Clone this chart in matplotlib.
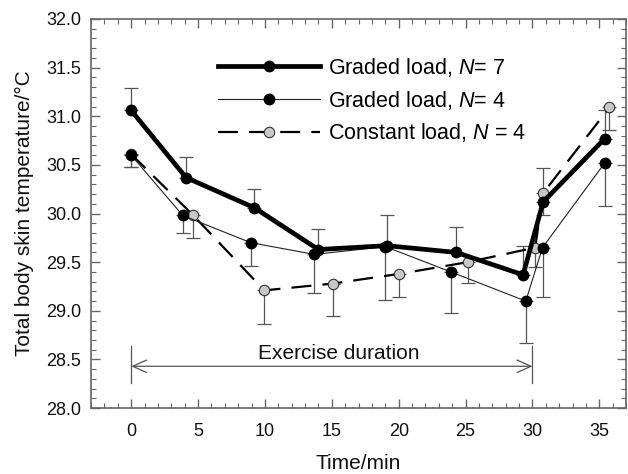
import numpy as np
import matplotlib
matplotlib.use("Agg")
import matplotlib.pyplot as plt
from matplotlib.ticker import MultipleLocator

plt.rcParams.update({
    "font.family": ["Liberation Sans", "DejaVu Sans"],
    "mathtext.fontset": "custom",
    "mathtext.rm": "Liberation Sans",
    "mathtext.it": "Liberation Sans:italic",
})

# graded load, N = 7 (thick line, bars up)
t_g7 = [0.0, 4.1, 9.2, 14.0, 19.1, 24.3, 29.3, 30.8, 35.4]
v_g7 = [31.06, 30.37, 30.06, 29.63, 29.67, 29.60, 29.37, 30.12, 30.77]
e_g7 = [0.23, 0.21, 0.19, 0.21, 0.31, 0.26, 0.30, 0.35, 0.29]

# graded load, N = 4 (thin line, bars down)
t_g4 = [0.0, 3.85, 8.95, 13.7, 19.0, 23.9, 29.5, 30.75, 35.4]
v_g4 = [30.60, 29.98, 29.70, 29.58, 29.66, 29.40, 29.10, 29.65, 30.52]
e_g4 = [0.12, 0.18, 0.24, 0.40, 0.55, 0.42, 0.43, 0.51, 0.44]

# constant load, N = 4 (dashed line, bars down)
t_c4 = [0.0, 4.65, 9.95, 15.05, 20.05, 25.15, 30.2, 30.8, 35.75]
v_c4 = [30.61, 29.98, 29.21, 29.28, 29.38, 29.50, 29.65, 30.21, 31.09]
e_c4 = [0.13, 0.23, 0.35, 0.33, 0.24, 0.21, 0.20, 0.23, 0.23]

bar_col = "#555555"
fig = plt.figure(figsize=(6.28, 4.74), dpi=100)
ax = fig.add_axes([0.145, 0.139, 0.852, 0.821])

ax.errorbar(t_g7, v_g7, yerr=[np.zeros(len(e_g7)), e_g7], fmt="none",
            ecolor=bar_col, elinewidth=0.9, capsize=4.8, capthick=0.9, zorder=1)
ax.errorbar(t_g4, v_g4, yerr=[e_g4, np.zeros(len(e_g4))], fmt="none",
            ecolor=bar_col, elinewidth=0.9, capsize=4.8, capthick=0.9, zorder=1)
ax.errorbar(t_c4, v_c4, yerr=[e_c4, np.zeros(len(e_c4))], fmt="none",
            ecolor=bar_col, elinewidth=0.9, capsize=4.8, capthick=0.9, zorder=1)

ax.plot(t_c4, v_c4, color="black", lw=1.6, dashes=(9, 5), marker="o", ms=7.5,
        mfc="#c8c8c8", mec="#333333", mew=0.8, zorder=2,
        label=r"Constant load, $N$ = 4")
ax.plot(t_g4, v_g4, color="#222222", lw=0.8, marker="o", ms=7.5,
        mfc="black", mec="black", zorder=3, label=r"Graded load, $N$= 4")
ax.plot(t_g7, v_g7, color="black", lw=3.4, marker="o", ms=7.5,
        mfc="black", mec="black", zorder=4, label=r"Graded load, $N$= 7")

# exercise duration marker
ax.annotate("", xy=(0, 28.43), xytext=(30, 28.43),
            arrowprops=dict(arrowstyle="<->,head_length=1.0,head_width=0.45",
                            color="#555555", lw=0.9, shrinkA=0, shrinkB=0))
ax.plot([0, 0], [28.26, 28.64], color="#555555", lw=0.9)
ax.plot([30, 30], [28.26, 28.64], color="#555555", lw=0.9)
ax.text(15.55, 28.50, "Exercise duration", ha="center", va="baseline",
        fontsize=15, color="#111111")

ax.set_xlim(-3, 37)
ax.set_ylim(28.0, 32.0)
ax.xaxis.set_major_locator(MultipleLocator(5))
ax.xaxis.set_minor_locator(MultipleLocator(1))
ax.yaxis.set_major_locator(MultipleLocator(0.5))
ax.yaxis.set_minor_locator(MultipleLocator(0.1))
ax.yaxis.set_major_formatter(matplotlib.ticker.FormatStrFormatter("%.1f"))

for s in ax.spines.values():
    s.set_color("#666666")
    s.set_linewidth(1.2)
ax.tick_params(which="both", direction="in", top=True, right=True,
               color="#666666", labelsize=13, labelcolor="#111111")
ax.tick_params(which="major", length=6.5, width=1.0)
ax.tick_params(which="minor", length=3.5, width=0.8)
ax.tick_params(axis="x", which="major", pad=11)
ax.tick_params(axis="y", which="major", pad=7)

ax.set_xlabel("Time/min", fontsize=15, labelpad=10, color="#111111")
ax.set_ylabel("Total body skin temperature/\u00b0C", fontsize=15, labelpad=9,
              color="#111111")

h, l = ax.get_legend_handles_labels()
ax.legend(h[::-1], l[::-1], loc="upper left", bbox_to_anchor=(0.237, 0.905),
          frameon=False, fontsize=15.5, handlelength=4.75, handletextpad=0.37,
          labelspacing=0.45, numpoints=1, borderpad=0, borderaxespad=0)

fig.savefig("out.png", dpi=100)
